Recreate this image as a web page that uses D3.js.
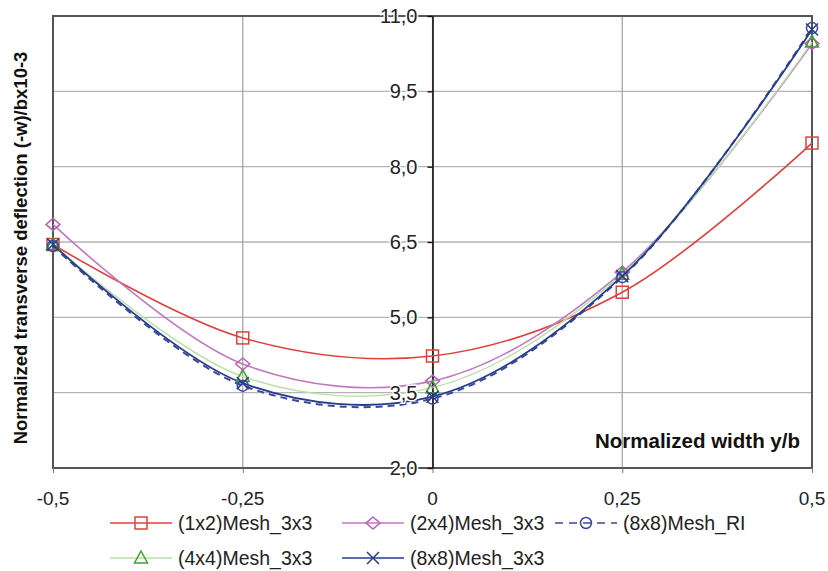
<!DOCTYPE html>
<html>
<head>
<meta charset="utf-8">
<script src="https://cdn.jsdelivr.net/npm/d3@7"></script>
<style>
  body { margin: 0; background: #fff; }
  text { font-family: "Liberation Sans", Arial, sans-serif; }
</style>
</head>
<body>
<svg width="828" height="571"></svg>
<script>
const xValues = [-0.5, -0.25, 0, 0.25, 0.5];
const xTicks = [-0.5, -0.25, 0, 0.25, 0.5];
const xTickLabels = ["-0,5", "-0,25", "0", "0,25", "0,5"];
const yTicks = [2.0, 3.5, 5.0, 6.5, 8.0, 9.5, 11.0];

const mesh1x2 = [6.45, 4.59, 4.23, 5.50, 8.47];
const mesh2x4 = [6.85, 4.07, 3.73, 5.90, 10.45];
const mesh4x4 = [6.45, 3.82, 3.60, 5.86, 10.48];
const mesh8x8 = [6.45, 3.69, 3.42, 5.82, 10.73];
const mesh8x8RI = [6.42, 3.64, 3.38, 5.80, 10.76];

const series = [
  { name: "(1x2)Mesh_3x3", values: mesh1x2, color: "#e0403c", mcolor: "#e0403c", marker: "square", dash: null, width: 1.6 },
  { name: "(2x4)Mesh_3x3", values: mesh2x4, color: "#c078c0", mcolor: "#b860b8", marker: "diamond", dash: null, width: 1.6 },
  { name: "(8x8)Mesh_RI", values: mesh8x8RI, color: "#3a4a9a", mcolor: "#3a4a9a", marker: "circle", dash: "7,5", width: 2 },
  { name: "(4x4)Mesh_3x3", values: mesh4x4, color: "#b8e0a8", mcolor: "#40a030", marker: "triangle", dash: null, width: 1.4 },
  { name: "(8x8)Mesh_3x3", values: mesh8x8, color: "#283c8c", mcolor: "#283c8c", marker: "cross", dash: null, width: 1.8 }
];

const svg = d3.select("svg");
const plotL = 53, plotR = 812, plotT = 16, plotB = 468;

const x = d3.scaleLinear().domain([-0.5, 0.5]).range([plotL, plotR]);
const y = d3.scaleLinear().domain([2, 11]).range([plotB, plotT]);

// grid
svg.append("g").selectAll("line").data(yTicks).enter().append("line")
  .attr("x1", plotL).attr("x2", plotR)
  .attr("y1", d => y(d)).attr("y2", d => y(d))
  .style("stroke", "#b4b4b4").style("stroke-width", 1.3);
svg.append("g").selectAll("line").data(xTicks).enter().append("line")
  .attr("x1", d => x(d)).attr("x2", d => x(d))
  .attr("y1", plotT).attr("y2", plotB)
  .style("stroke", "#a0a0a0").style("stroke-width", 1.2);

// border
svg.append("rect")
  .attr("x", plotL).attr("y", plotT).attr("width", plotR - plotL).attr("height", plotB - plotT)
  .style("fill", "none").style("stroke", "#555").style("stroke-width", 2);

// bottom ticks
const xAxis = d3.axisBottom(x).tickValues(xTicks).tickSize(5).tickSizeOuter(0).tickFormat("");
const gx = svg.append("g").attr("transform", `translate(0,${plotB})`).call(xAxis);
gx.select(".domain").remove();
gx.selectAll("line").style("stroke", "#777");

// y axis at x = 0
const yAxis = d3.axisLeft(y).tickValues(yTicks).tickSize(5).tickSizeOuter(0).tickFormat("");
const gy = svg.append("g").attr("transform", `translate(${x(0)},0)`).call(yAxis);
gy.select(".domain").style("stroke", "#111").style("stroke-width", 1.6);
gy.selectAll("line").style("stroke", "#111").style("stroke-width", 1.4);

// lines
const line = d3.line().x((d, i) => x(xValues[i])).y(d => y(d)).curve(d3.curveCatmullRom.alpha(0.5));
const order = [0, 1, 3, 2, 4];
order.forEach(k => {
  const s = series[k];
  svg.append("path").datum(s.values).attr("d", line)
    .style("fill", "none").style("stroke", s.color).style("stroke-width", s.width)
    .style("stroke-dasharray", s.dash);
});

function drawMarker(g, type, cx, cy, color) {
  const m = g.append("g").attr("transform", `translate(${cx},${cy})`);
  const st = sel => sel.style("fill", "none").style("stroke", color).style("stroke-width", 1.5);
  if (type === "square") st(m.append("rect").attr("x", -6).attr("y", -6).attr("width", 12).attr("height", 12));
  else if (type === "diamond") st(m.append("path").attr("d", "M0,-6L7,0L0,6L-7,0Z"));
  else if (type === "triangle") st(m.append("path").attr("d", "M0,-7L6.5,5L-6.5,5Z"));
  else if (type === "circle") st(m.append("circle").attr("r", 5.5));
  else if (type === "cross") st(m.append("path").attr("d", "M-6,-6L6,6M-6,6L6,-6"));
}

order.forEach(k => {
  const s = series[k];
  const g = svg.append("g");
  s.values.forEach((v, i) => drawMarker(g, s.marker, x(xValues[i]), y(v), s.mcolor));
});

// tick labels
svg.append("g").selectAll("text").data(xTicks).enter().append("text")
  .attr("x", d => x(d)).attr("y", plotB + 37)
  .attr("text-anchor", "middle")
  .style("font-size", "19px").style("fill", "#222")
  .text((d, i) => xTickLabels[i]);

svg.append("g").selectAll("text").data(yTicks).enter().append("text")
  .attr("x", x(0) - 15).attr("y", d => y(d) + 7)
  .attr("text-anchor", "end")
  .style("font-size", "20px").style("fill", "#222")
  .style("paint-order", "stroke").style("stroke", "#fff").style("stroke-width", "3px")
  .text(d => d3.format(".1f")(d).replace(".", ","));

// axis titles
svg.append("text")
  .attr("transform", `translate(27,${(plotT + plotB) / 2 + 6}) rotate(-90)`)
  .attr("text-anchor", "middle")
  .style("font-size", "18.5px").style("font-weight", "bold").style("fill", "#111")
  .text("Normalized transverse deflection (-w)/bx10-3");

svg.append("text")
  .attr("x", 800).attr("y", 448).attr("text-anchor", "end")
  .style("font-size", "20.5px").style("font-weight", "bold").style("fill", "#111")
  .text("Normalized width y/b");

// legend
const legendPos = [[110, 523], [342, 523], [555, 523], [110, 558], [342, 558]];
series.forEach((s, i) => {
  const [lx, ly] = legendPos[i];
  const g = svg.append("g");
  g.append("line").attr("x1", lx).attr("x2", lx + 62).attr("y1", ly).attr("y2", ly)
    .style("stroke", s.color).style("stroke-width", s.dash ? 1.6 : 1.5)
    .style("stroke-dasharray", s.dash ? "8,6" : null);
  drawMarker(g, s.marker, lx + 31, ly, s.mcolor);
  g.append("text").attr("x", lx + 68).attr("y", ly + 7)
    .style("font-size", "19.5px").style("fill", "#222").text(s.name);
});
</script>
</body>
</html>
